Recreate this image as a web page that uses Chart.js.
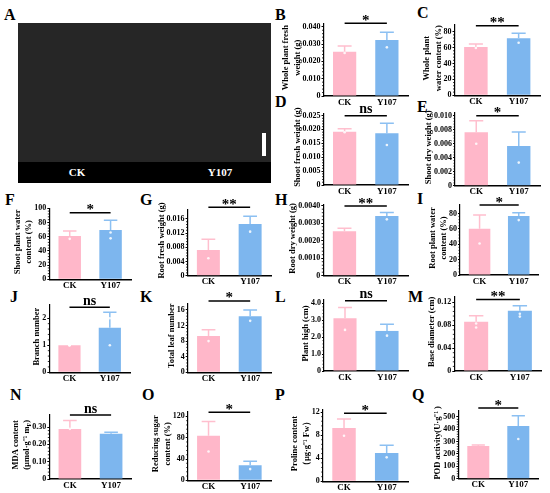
<!DOCTYPE html>
<html><head><meta charset="utf-8">
<script src="https://cdn.jsdelivr.net/npm/chart.js@4.4.1/dist/chart.umd.min.js"></script>
<style>
html,body{margin:0;padding:0;background:#fff;width:550px;height:493px;overflow:hidden;}
body{position:relative;font-family:"Liberation Serif","Times New Roman",serif;}
canvas{position:absolute;}
.lt{position:absolute;font:bold 16px/16px "Liberation Serif",serif;color:#000;}
#photo{position:absolute;left:18px;top:23px;width:253px;height:160px;background:#262626;}
#photoBar{position:absolute;left:0;bottom:0;width:100%;height:21px;background:#000;}
.pl{position:absolute;top:4px;font:bold 11px/13px "Liberation Serif",serif;color:#fff;transform:translateX(-50%);}
#scale{position:absolute;left:244px;top:110px;width:4px;height:23px;background:#fff;}
</style></head><body>
<div id="photo"><div id="photoBar"><span class="pl" style="left:59px">CK</span><span class="pl" style="left:202px">Y107</span></div><div id="scale"></div></div>
<script>
// ---------------- DATA ----------------
const panelIds = ['B','C','D','E','F','G','H','I','J','K','L','M','N','O','P','Q'];
const groups = ['CK','Y107'];
const ckMean  = [0.0256, 60.8, 0.0192, 0.00763, 61.0, 0.00724, 0.00254, 60.0, 1.00, 9.3, 3.12, 0.0861, 0.289, 83.7, 9.23, 265];
const ckSD    = [0.0033, 3.7, 0.0010, 0.00166, 7.0, 0.00300, 0.00017, 18.0, 0.00, 1.6, 0.63, 0.0105, 0.050, 26.9, 1.57, 8];
const y107Mean= [0.0323, 71.7, 0.0186, 0.00567, 69.4, 0.01456, 0.00341, 76.6, 1.65, 14.35, 2.37, 0.1053, 0.262, 28.1, 4.90, 427];
const y107SD  = [0.0045, 6.3, 0.0036, 0.00200, 13.6, 0.00220, 0.00020, 4.4, 0.57, 1.65, 0.39, 0.0087, 0.008, 7.5, 1.33, 83];
const ckPoints   = [[0.0248],[59.5],[0.0190],[0.0060],[57.0],[0.0049],[],[41],[1,1,1],[8.0],[2.43],[0.083,0.076],[0.29],[54],[7.9],[]];
const y107Points = [[0.0281],[66.0],[0.0144],[0.0033],[57.7,66.0],[0.0124],[0.00322],[71.4],[1.0,2.0],[13.2],[2.09],[0.095,0.100],[],[21],[4.15],[321]];
const sigLabel = ['*','**','ns','*','*','**','**','*','ns','*','ns','**','ns','*','*','*'];
const sigLevel = [0.042, 87.5, 0.0249, 0.0100, 93.8, 0.0193, 0.00398, 91, 2.41, 18.3, 4.16, 0.125, 0.37, 128, 11.8, 572];
const yMax = [0.0420, 88.4, 0.0258, 0.01039, 100, 0.0187, 0.00404, 91, 2.49, 17.7, 4.2, 0.1298, 0.372, 129.6, 12.4, 548];
const yTickLabels = [
  ['0','0.010','0.020','0.030','0.040'],
  ['0','20','40','60','80'],
  ['0','0.005','0.010','0.015','0.020','0.025'],
  ['0','0.002','0.004','0.006','0.008','0.010'],
  ['0','20','40','60','80','100'],
  ['0','0.004','0.008','0.012','0.016'],
  ['0','0.0010','0.0020','0.0030','0.0040'],
  ['0','20','40','60','80'],
  ['0','1','2'],
  ['0','4','8','12','16'],
  ['0','1.0','2.0','3.0','4.0'],
  ['0','0.04','0.08','0.12'],
  ['0','0.10','0.20','0.30'],
  ['0','40','80','120'],
  ['0','4','8','12'],
  ['0','100','200','300','400','500']
];
const yTitles = [
  ['Whole plant fresh','weight (g)'],
  ['Whole plant','water content (%)'],
  ['Shoot fresh weight (g)'],
  ['Shoot dry weight (g)'],
  ['Shoot plant water','content (%)'],
  ['Root fresh weight (g)'],
  ['Root dry weight (g)'],
  ['Root plant water','content (%)'],
  ['Branch number'],
  ['Total leaf number'],
  ['Plant high (cm)'],
  ['Base diameter (cm)'],
  ['MDA content','(µmol·g⁻¹ m_F)'],
  ['Reducing sugar','content (%)'],
  ['Proline content','（µg·g⁻¹ Fw）'],
  ['POD activity(U·g⁻¹ )']
];

// ---------------- LAYOUT (page px) ----------------
// axis frame: [axisLeft, axisTop, axisRight, axisBottom, columnLeft, columnWidth]
const frames = [
  [323.5, 23.3, 408, 96, 275, 137],
  [454.5, 25, 540, 95.3, 412, 138],
  [323.5, 113.3, 408, 185, 275, 137],
  [455, 113, 540, 185.7, 412, 138],
  [49.3, 208.3, 131, 279.3, 0, 137],
  [187.5, 209.3, 271, 275.7, 137, 138],
  [323.3, 205, 408.3, 275.7, 275, 137],
  [460, 205, 538.3, 275, 412, 138],
  [49.3, 305, 130, 372.3, 0, 137],
  [187.7, 303.3, 273, 372.3, 137, 138],
  [324, 300, 408.3, 371, 275, 137],
  [454.3, 296.7, 541.7, 371, 412, 138],
  [49.3, 414.7, 131.7, 479, 0, 137],
  [187.7, 411.3, 273, 480.3, 137, 138],
  [322.7, 409.7, 408.3, 481.3, 275, 137],
  [458.3, 411, 538.3, 478.7, 412, 138]
];
const letterPos = {A:[4,10],B:[275,10],C:[417,8],D:[275,97],E:[417,102],F:[5,195],G:[140,195],H:[275,195],I:[417,194],
  J:[10,292],K:[140,292],L:[275,292],M:[408,292],N:[10,390],O:[142,390],P:[275,390],Q:[412,390]};

const SERIF = '"Liberation Serif","Times New Roman",serif';
const barColors = ['#FFB7C9','#7DB6EE'];
const errColors = ['#FFBFCE','#8CC0F2'];

Object.keys(letterPos).forEach(k=>{
  const d=document.createElement('div'); d.className='lt'; d.textContent=k;
  d.style.left=letterPos[k][0]+'px'; d.style.top=(letterPos[k][1]-3)+'px'; document.body.appendChild(d);
});

function drawRich(ctx, text, x, y){
  const parts=[]; let i=0;
  while(i<text.length){
    if(text[i]==='_' && i+1<text.length){ parts.push({t:text[i+1],sub:true}); i+=2; }
    else { let j=i; while(j<text.length && text[j]!=='_') j++; parts.push({t:text.slice(i,j),sub:false}); i=j; }
  }
  const fN='bold 8.5px '+SERIF, fS='bold 6px '+SERIF;
  let w=0; parts.forEach(p=>{ctx.font=p.sub?fS:fN; p.w=ctx.measureText(p.t).width; w+=p.w;});
  let cx=x-w/2;
  ctx.textAlign='left';
  parts.forEach(p=>{ctx.font=p.sub?fS:fN; ctx.fillText(p.t,cx,y+(p.sub?2.2:0)); cx+=p.w;});
}

const decor = {
  id:'decor',
  afterDatasetDraw(chart,args){
    if(args.index!==0) return;
    const i=chart.options.plugins.decor.idx, ctx=chart.ctx, ys=chart.scales.y;
    const means=[ckMean[i],y107Mean[i]], sds=[ckSD[i],y107SD[i]];
    args.meta.data.forEach((bar,k)=>{
      if(!sds[k]) return;
      const x=bar.x, y0=ys.getPixelForValue(means[k]), y1=ys.getPixelForValue(means[k]+sds[k]);
      const cap=bar.width*0.3;
      ctx.save(); ctx.strokeStyle=errColors[k]; ctx.lineWidth=1.5;
      ctx.beginPath(); ctx.moveTo(x,y0); ctx.lineTo(x,y1); ctx.moveTo(x-cap,y1); ctx.lineTo(x+cap,y1); ctx.stroke(); ctx.restore();
    });
  },
  afterDraw(chart){
    const i=chart.options.plugins.decor.idx, ctx=chart.ctx, xs=chart.scales.x, ys=chart.scales.y, ca=chart.chartArea;
    const x0=xs.getPixelForValue(0), x1=xs.getPixelForValue(1), yy=ys.getPixelForValue(sigLevel[i]);
    ctx.save();
    // minor ticks
    const tv=yTickLabels[i].map(parseFloat);
    ctx.strokeStyle='#000'; ctx.lineWidth=0.8;
    ctx.beginPath();
    for(let k=0;k+1<tv.length;k++){
      const a=tv[k], b=tv[k+1];
      for(let m=1;m<5;m++){
        const p=ys.getPixelForValue(a+(b-a)*m/5);
        ctx.moveTo(ca.left-1.5,p); ctx.lineTo(ca.left,p);
      }
    }
    ctx.stroke();
    // significance
    ctx.strokeStyle='#000'; ctx.lineWidth=1.5;
    ctx.beginPath(); ctx.moveTo(x0,yy); ctx.lineTo(x1,yy); ctx.stroke();
    ctx.fillStyle='#000'; ctx.textAlign='center'; ctx.textBaseline='alphabetic';
    const mid=(x0+x1)/2;
    if(sigLabel[i]==='ns'){ ctx.font='bold 14px '+SERIF; ctx.fillText('ns',mid,yy-2.5); }
    else { ctx.font='bold 15px '+SERIF; ctx.fillText(sigLabel[i],mid,yy+1.5); }
    // y-axis title
    ctx.font='bold 8px '+SERIF;
    let maxW=0; yTickLabels[i].forEach(t=>{maxW=Math.max(maxW,ctx.measureText(t).width);});
    const lines=yTitles[i], n=lines.length;
    const lastX=ca.left-3-maxW-5.2;
    const cy=(ca.top+ca.bottom)/2-2;
    lines.forEach((ln,k)=>{
      const lx=lastX-(n-1-k)*11.3;
      ctx.save(); ctx.translate(lx,cy); ctx.rotate(-Math.PI/2);
      ctx.textBaseline='middle';
      drawRich(ctx,ln,0,0);
      ctx.restore();
    });
    ctx.restore();
  }
};

panelIds.forEach((id,i)=>{
  const [aL,aT,aR,aB,cL,cW]=frames[i];
  const top=Math.floor(aT-26), bottom=Math.min(493,Math.ceil(aB+14));
  const cv=document.createElement('canvas');
  cv.width=cW; cv.height=bottom-top;
  cv.style.left=cL+'px'; cv.style.top=top+'px';
  cv.style.width=cW+'px'; cv.style.height=(bottom-top)+'px';
  document.body.appendChild(cv);
  const tickVals=yTickLabels[i].map(parseFloat);
  const yLeftW=aL-cL, xH=bottom-aB;
  new Chart(cv,{
    data:{
      labels:groups,
      datasets:[
        {type:'bar',data:[ckMean[i],y107Mean[i]],backgroundColor:barColors,borderWidth:0,barPercentage:0.55,categoryPercentage:1,order:2},
        {type:'line',showLine:false,data:[...ckPoints[i].map(v=>({x:'CK',y:v})),...y107Points[i].map(v=>({x:'Y107',y:v}))],
          pointRadius:1.3,pointBorderWidth:0,pointBackgroundColor:'rgba(255,255,255,0.85)',order:1}
      ]
    },
    options:{
      responsive:false,animation:false,
      layout:{padding:{left:0,top:aT-top,right:cL+cW-aR,bottom:0}},
      plugins:{legend:{display:false},tooltip:{enabled:false},decor:{idx:i}},
      scales:{
        x:{type:'category',offset:true,
          grid:{display:false,drawTicks:false},
          border:{display:true,color:'#000',width:1.5},
          ticks:{padding:1,color:'#000',font:{family:SERIF,weight:'bold',size:9}},
          afterFit(s){s.height=xH;}
        },
        y:{type:'linear',min:0,max:yMax[i],
          grid:{display:true,drawOnChartArea:false,drawTicks:true,tickLength:2,color:'#000',lineWidth:1},
          border:{display:true,color:'#000',width:1.2},
          ticks:{padding:1,color:'#000',font:{family:SERIF,weight:'bold',size:8},callback:(v,k)=>yTickLabels[i][k]},
          afterBuildTicks(s){s.ticks=tickVals.map(v=>({value:v}));},
          afterFit(s){s.width=yLeftW;}
        }
      }
    },
    plugins:[decor]
  });
});
</script>
</body></html>
